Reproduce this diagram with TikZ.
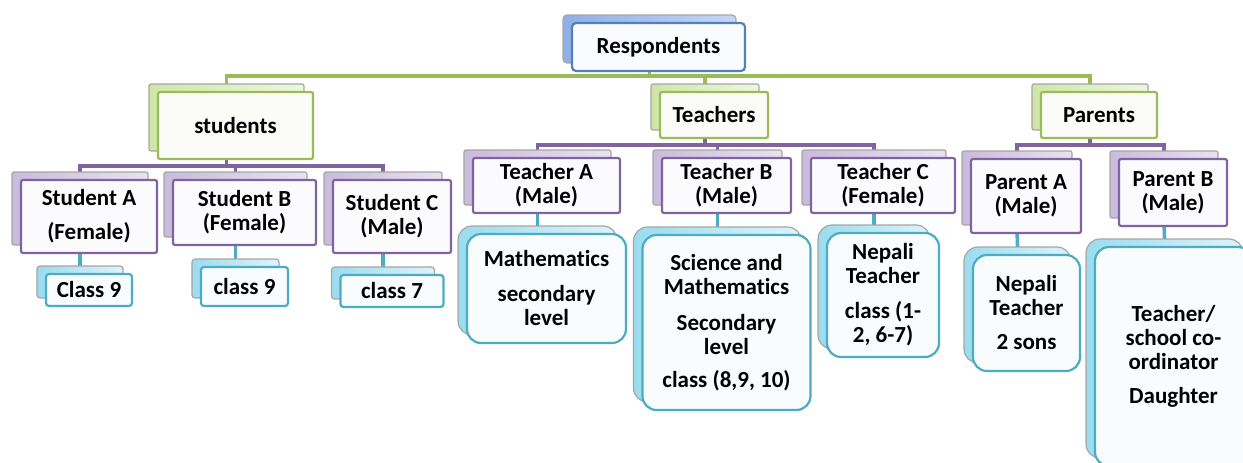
\documentclass[tikz,border=0pt]{standalone}
\usepackage{fontspec}
\setmainfont{Carlito}[Ligatures=NoCommon]
\usetikzlibrary{fit}

\definecolor{rblue}{HTML}{4F81BD}
\definecolor{rgreen}{HTML}{9BBB59}
\definecolor{rpurple}{HTML}{8064A2}
\definecolor{rcyan}{HTML}{4BACC6}
\definecolor{rgray}{HTML}{A6A6A6}
\definecolor{bluebkL}{HTML}{8FB0E6}
\definecolor{bluebkR}{HTML}{C5D6F4}
\definecolor{greenbkL}{HTML}{CFE6A6}
\definecolor{greenbkR}{HTML}{EEF7DF}
\definecolor{purplebkL}{HTML}{C9BBDD}
\definecolor{purplebkR}{HTML}{E8E2F0}
\definecolor{cyanbkL}{HTML}{9ADCEF}
\definecolor{cyanbkR}{HTML}{DFF3F9}

\pgfdeclarelayer{links}
\pgfdeclarelayer{back}
\pgfsetlayers{links,back,main}

\tikzset{
  wh/.style 2 args={minimum width=#1*0.5pt, minimum height=#2*0.5pt},
  card/.style={draw, line width=1.1pt, fill=white, rounded corners=1pt,
    align=center, inner sep=0pt, outer sep=0pt,
    font=\bfseries\fontsize{11.5}{12}\selectfont},
  bluecard/.style={card, draw=rblue, fill=rblue!3!white, rounded corners=2pt},
  greencard/.style={card, draw=rgreen, fill=rgreen!4!white},
  purplecard/.style={card, draw=rpurple, fill=rpurple!3!white},
  cyancard/.style={card, draw=rcyan, fill=rcyan!4!white, rounded corners=1.5pt},
  cyanbig/.style={cyancard, rounded corners=7pt},
  bk/.style={draw=rgray, line width=0.6pt, inner sep=0pt, outer sep=0pt,
    shift={(-9,-8)}},
  bluebk/.style={bk, left color=bluebkL, right color=bluebkR, rounded corners=2pt},
  greenbk/.style={bk, left color=greenbkL, right color=greenbkR, rounded corners=1pt},
  purplebk/.style={bk, left color=purplebkL, right color=purplebkR, rounded corners=1pt},
  cyanbk/.style={bk, left color=cyanbkL, right color=cyanbkR, rounded corners=1.5pt},
  cyanbkbig/.style={cyanbk, rounded corners=7pt},
  link/.style={line width=1.8pt},
}

\begin{document}
\begin{tikzpicture}[x=0.5pt,y=-0.5pt]
\useasboundingbox (0,0) rectangle (1243,462);
\clip (0,0) rectangle (1243,462);

% top level
\node[bluecard, wh={173}{48}] (resp) at (658.5,47) {Respondents};

% groups
\node[greencard, wh={155}{67}] (stud) at (235.5,125.5) {students};
\node[greencard, wh={108}{46}] (teach) at (714,115) {Teachers};
\node[greencard, wh={116}{46}] (par) at (1099,115) {Parents};

% people
\node[purplecard, wh={136}{73}] (sa) at (89,216.5) {Student A\\[5pt](Female)};
\node[purplecard, wh={143}{65}] (sb) at (244.5,212.5) {Student B\\(Female)};
\node[purplecard, wh={118}{73}] (sc) at (392,216.5) {Student C\\(Male)};
\node[purplecard, wh={147}{55}] (ta) at (546.5,185.5) {Teacher A\\(Male)};
\node[purplecard, wh={129}{55}] (tb) at (726.5,185.5) {Teacher B\\(Male)};
\node[purplecard, wh={144}{55}] (tc) at (883,185.5) {Teacher C\\(Female)};
\node[purplecard, wh={110}{74}] (pa) at (1026,196) {Parent A\\(Male)};
\node[purplecard, wh={108}{67}] (pb) at (1173,192.5) {Parent B\\(Male)};

% details
\node[cyancard, wh={86}{32}] (ca) at (89,290) {Class 9};
\node[cyancard, wh={87}{39}] (cb) at (244.5,286.5) {class 9};
\node[cyancard, wh={103}{32}] (cc) at (392,291) {class 7};
\node[cyanbig, wh={159}{109}] (da) at (546.5,288.5) {Mathematics\\[5.5pt]secondary\\level};
\node[cyanbig, wh={168}{175}] (db) at (726.5,322.5)
  {Science and\\Mathematics\\[6pt]Secondary\\level\\[4.5pt]class (8,9, 10)};
\node[cyanbig, wh={112}{124}] (dc) at (883,295) {Nepali\\Teacher\\[5.5pt]class (1-\\2, 6-7)};
\node[cyanbig, wh={107}{116}] (dpa) at (1026.5,313) {Nepali\\Teacher\\[5pt]2 sons};
\node[cyanbig, wh={157}{219}] (dpb) at (1173.5,356.5)
  {Teacher/\\school co-\\ordinator\\[5pt]Daughter};

% the offset cards behind
\begin{pgfonlayer}{back}
\foreach \n/\s in {resp/bluebk, stud/greenbk, teach/greenbk, par/greenbk,
  sa/purplebk, sb/purplebk, sc/purplebk, ta/purplebk, tb/purplebk, tc/purplebk,
  pa/purplebk, pb/purplebk, ca/cyanbk, cb/cyanbk, cc/cyanbk,
  da/cyanbkbig, db/cyanbkbig, dc/cyanbkbig, dpa/cyanbkbig, dpb/cyanbkbig}
  \node[\s, fit=(\n)] (\n-bk) {};
\end{pgfonlayer}

% connectors
\coordinate (gbus) at (0,76);
\coordinate (sbus) at (0,166);
\coordinate (tbus) at (0,145);
\begin{pgfonlayer}{links}
\foreach \c in {stud,teach,par}
  \draw[link, rgreen] (resp-bk.south) |- (\c-bk.north |- gbus) -- (\c-bk.north);
\foreach \c in {sa,sb,sc}
  \draw[link, rpurple] (stud-bk.south) |- (\c-bk.north |- sbus) -- (\c-bk.north);
\foreach \c in {ta,tb,tc}
  \draw[link, rpurple] (teach-bk.south) |- (\c-bk.north |- tbus) -- (\c-bk.north);
\foreach \c in {pa,pb}
  \draw[link, rpurple] (par-bk.south) |- (\c-bk.north |- tbus) -- (\c-bk.north);
\foreach \a/\b in {sa/ca,sb/cb,sc/cc,ta/da,tb/db,tc/dc,pa/dpa,pb/dpb}
  \draw[link, rcyan] (\a-bk.south) -- (\b-bk.north);
\end{pgfonlayer}
\end{tikzpicture}
\end{document}
